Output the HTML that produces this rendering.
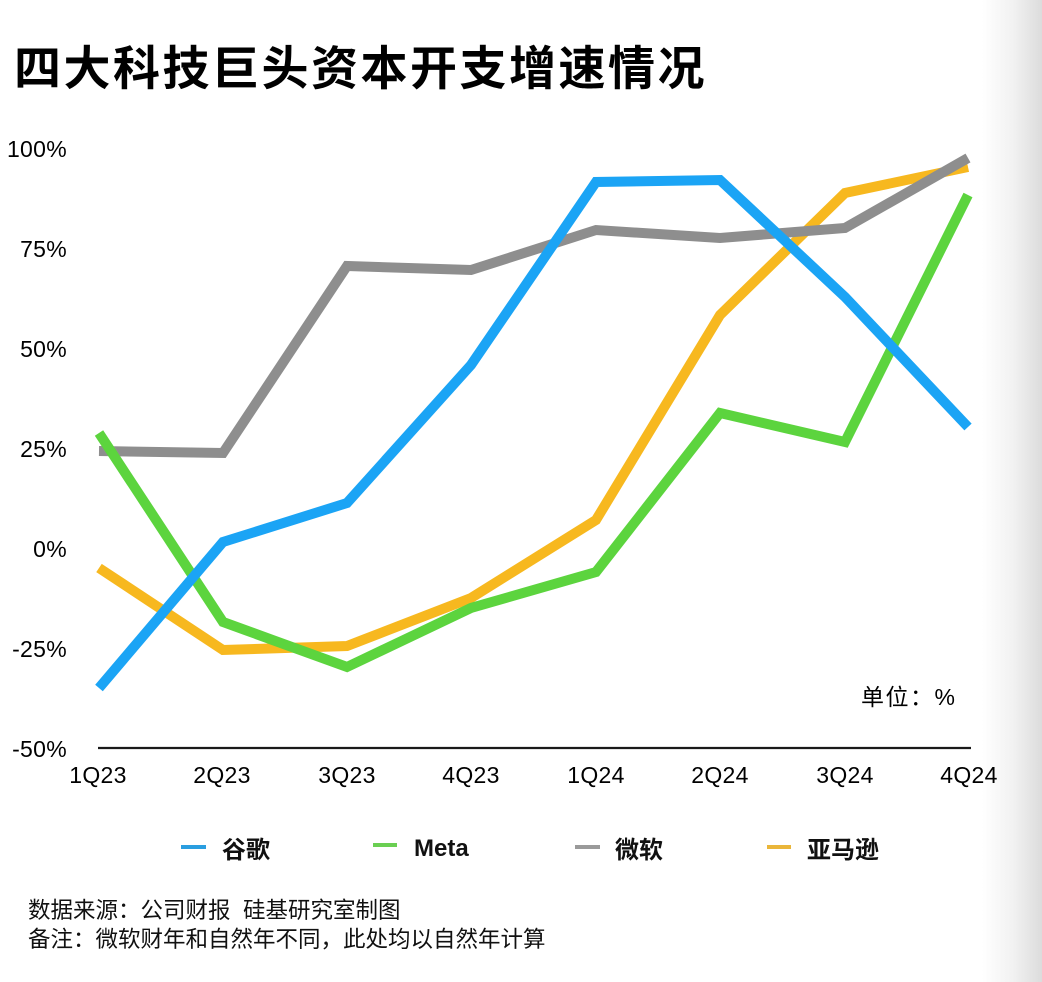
<!DOCTYPE html>
<html><head><meta charset="utf-8"><style>
html,body{margin:0;padding:0;background:#fff;}
body{width:1042px;height:982px;overflow:hidden;position:relative;}
svg{display:block;}
</style></head><body>
<svg width="1042" height="982" viewBox="0 0 1042 982" xmlns="http://www.w3.org/2000/svg">
<defs>
<linearGradient id="edge" x1="0" y1="0" x2="1" y2="0">
<stop offset="0" stop-color="#ffffff"/>
<stop offset="0.5" stop-color="#f2f2f2"/>
<stop offset="1" stop-color="#dcdcdc"/>
</linearGradient>
</defs>
<rect x="0" y="0" width="1042" height="982" fill="#fff"/>
<rect x="982" y="0" width="60" height="982" fill="url(#edge)"/>

<text x="14" y="85" font-family="'Liberation Sans','Noto Sans CJK SC',sans-serif" font-size="47" font-weight="700" letter-spacing="2.5" fill="#000">四大科技巨头资本开支增速情况</text>

<g font-family="'Liberation Sans','Noto Sans CJK SC',sans-serif" font-size="23" fill="#000" text-anchor="end" letter-spacing="0.3">
<text x="67" y="157">100%</text>
<text x="67" y="257">75%</text>
<text x="67" y="357">50%</text>
<text x="67" y="457">25%</text>
<text x="67" y="557">0%</text>
<text x="67" y="657">-25%</text>
<text x="67" y="757">-50%</text>
</g>

<line x1="98" y1="748" x2="971" y2="748" stroke="#1a1a1a" stroke-width="2.2"/>

<g font-family="'Liberation Sans','Noto Sans CJK SC',sans-serif" font-size="23" fill="#000" text-anchor="middle" letter-spacing="0.3">
<text x="98" y="783">1Q23</text>
<text x="222" y="783">2Q23</text>
<text x="347" y="783">3Q23</text>
<text x="471" y="783">4Q23</text>
<text x="596" y="783">1Q24</text>
<text x="720" y="783">2Q24</text>
<text x="845" y="783">3Q24</text>
<text x="969" y="783">4Q24</text>
</g>

<text x="861" y="705" font-family="'Liberation Sans','Noto Sans CJK SC',sans-serif" font-size="23" letter-spacing="1.5" fill="#000">单位：%</text>

<g fill="none" stroke-width="10" stroke-linejoin="miter" stroke-linecap="butt" stroke-miterlimit="10">
<polyline stroke="#f7b81f" points="99,568 223,650 347,646 471,598 596,520 720,315 845,193 968,167"/>
<polyline stroke="#8e8e8e" points="99,451 223,453 347,266 471,270 596,230 720,238 845,228 968,158"/>
<polyline stroke="#5cd43e" points="99,433 223,622 347,667 471,608 596,572 720,413 845,442 968,195"/>
<polyline stroke="#1ba4f5" points="99,688 223,542 347,503 471,365 596,182 720,180 845,297 968,427"/>
</g>

<g font-family="'Liberation Sans','Noto Sans CJK SC',sans-serif" font-size="24" font-weight="700" fill="#111">
<rect x="181" y="845" width="25" height="4" fill="#2a9ee0"/>
<text x="222" y="858">谷歌</text>
<rect x="373" y="843" width="24" height="4" fill="#6acf52"/>
<text x="414" y="856">Meta</text>
<rect x="575" y="845" width="25" height="4" fill="#9a9a9a"/>
<text x="615" y="858">微软</text>
<rect x="767" y="845" width="24" height="4" fill="#eab63a"/>
<text x="807" y="858">亚马逊</text>
</g>

<g font-family="'Liberation Sans','Noto Sans CJK SC',sans-serif" font-size="22.5" fill="#111">
<text x="28" y="918">数据来源：公司财报&#160;&#160;硅基研究室制图</text>
<text x="28" y="947">备注：微软财年和自然年不同，此处均以自然年计算</text>
</g>
</svg>
</body></html>
